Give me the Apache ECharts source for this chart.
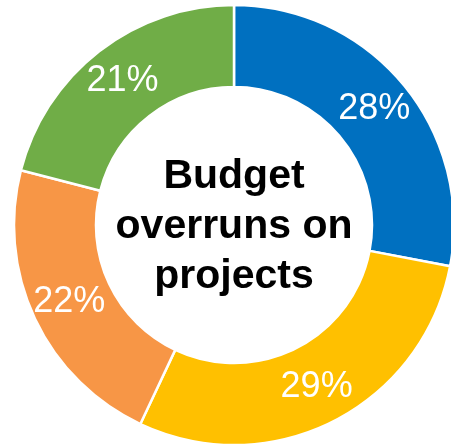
<!DOCTYPE html>
<html>
<head>
<meta charset="utf-8">
<script src="https://cdn.jsdelivr.net/npm/echarts@6/dist/echarts.min.js"></script>
<style>
  html, body { margin: 0; padding: 0; background: #fff; }
  #chart { width: 451px; height: 446px; }
</style>
</head>
<body>
<div id="chart"></div>
<script>
// Share of projects by budget overrun band (percent)
const categories = ['A', 'B', 'C', 'D'];
const shares = [28, 29, 22, 21];
const colors = ['#0070C0', '#FFC000', '#F79646', '#70AD47'];
const centerTitle = 'Budget\noverruns on\nprojects';

const chart = echarts.init(document.getElementById('chart'), null, { renderer: 'canvas' });

chart.setOption({
  animation: false,
  backgroundColor: '#ffffff',
  series: [{
    type: 'pie',
    center: [234, 225],
    radius: [138, 220],
    startAngle: 90,
    clockwise: true,
    silent: true,
    itemStyle: { borderColor: '#ffffff', borderWidth: 2.5 },
    label: {
      show: true,
      position: 'inside',
      formatter: p => p.value + '%',
      color: '#ffffff',
      fontFamily: 'Liberation Sans, Arial, sans-serif',
      fontSize: 36,
      fontWeight: 'normal'
    },
    labelLine: { show: false },
    data: categories.map((c, i) => ({
      name: c,
      value: shares[i],
      itemStyle: { color: colors[i] }
    }))
  }],
  graphic: [{
    type: 'text',
    x: 234,
    y: 227,
    style: {
      text: centerTitle,
      align: 'center',
      verticalAlign: 'middle',
      fill: '#000000',
      font: 'bold 41px "Liberation Sans", Arial, sans-serif',
      lineHeight: 50
    }
  }]
});
</script>
</body>
</html>
